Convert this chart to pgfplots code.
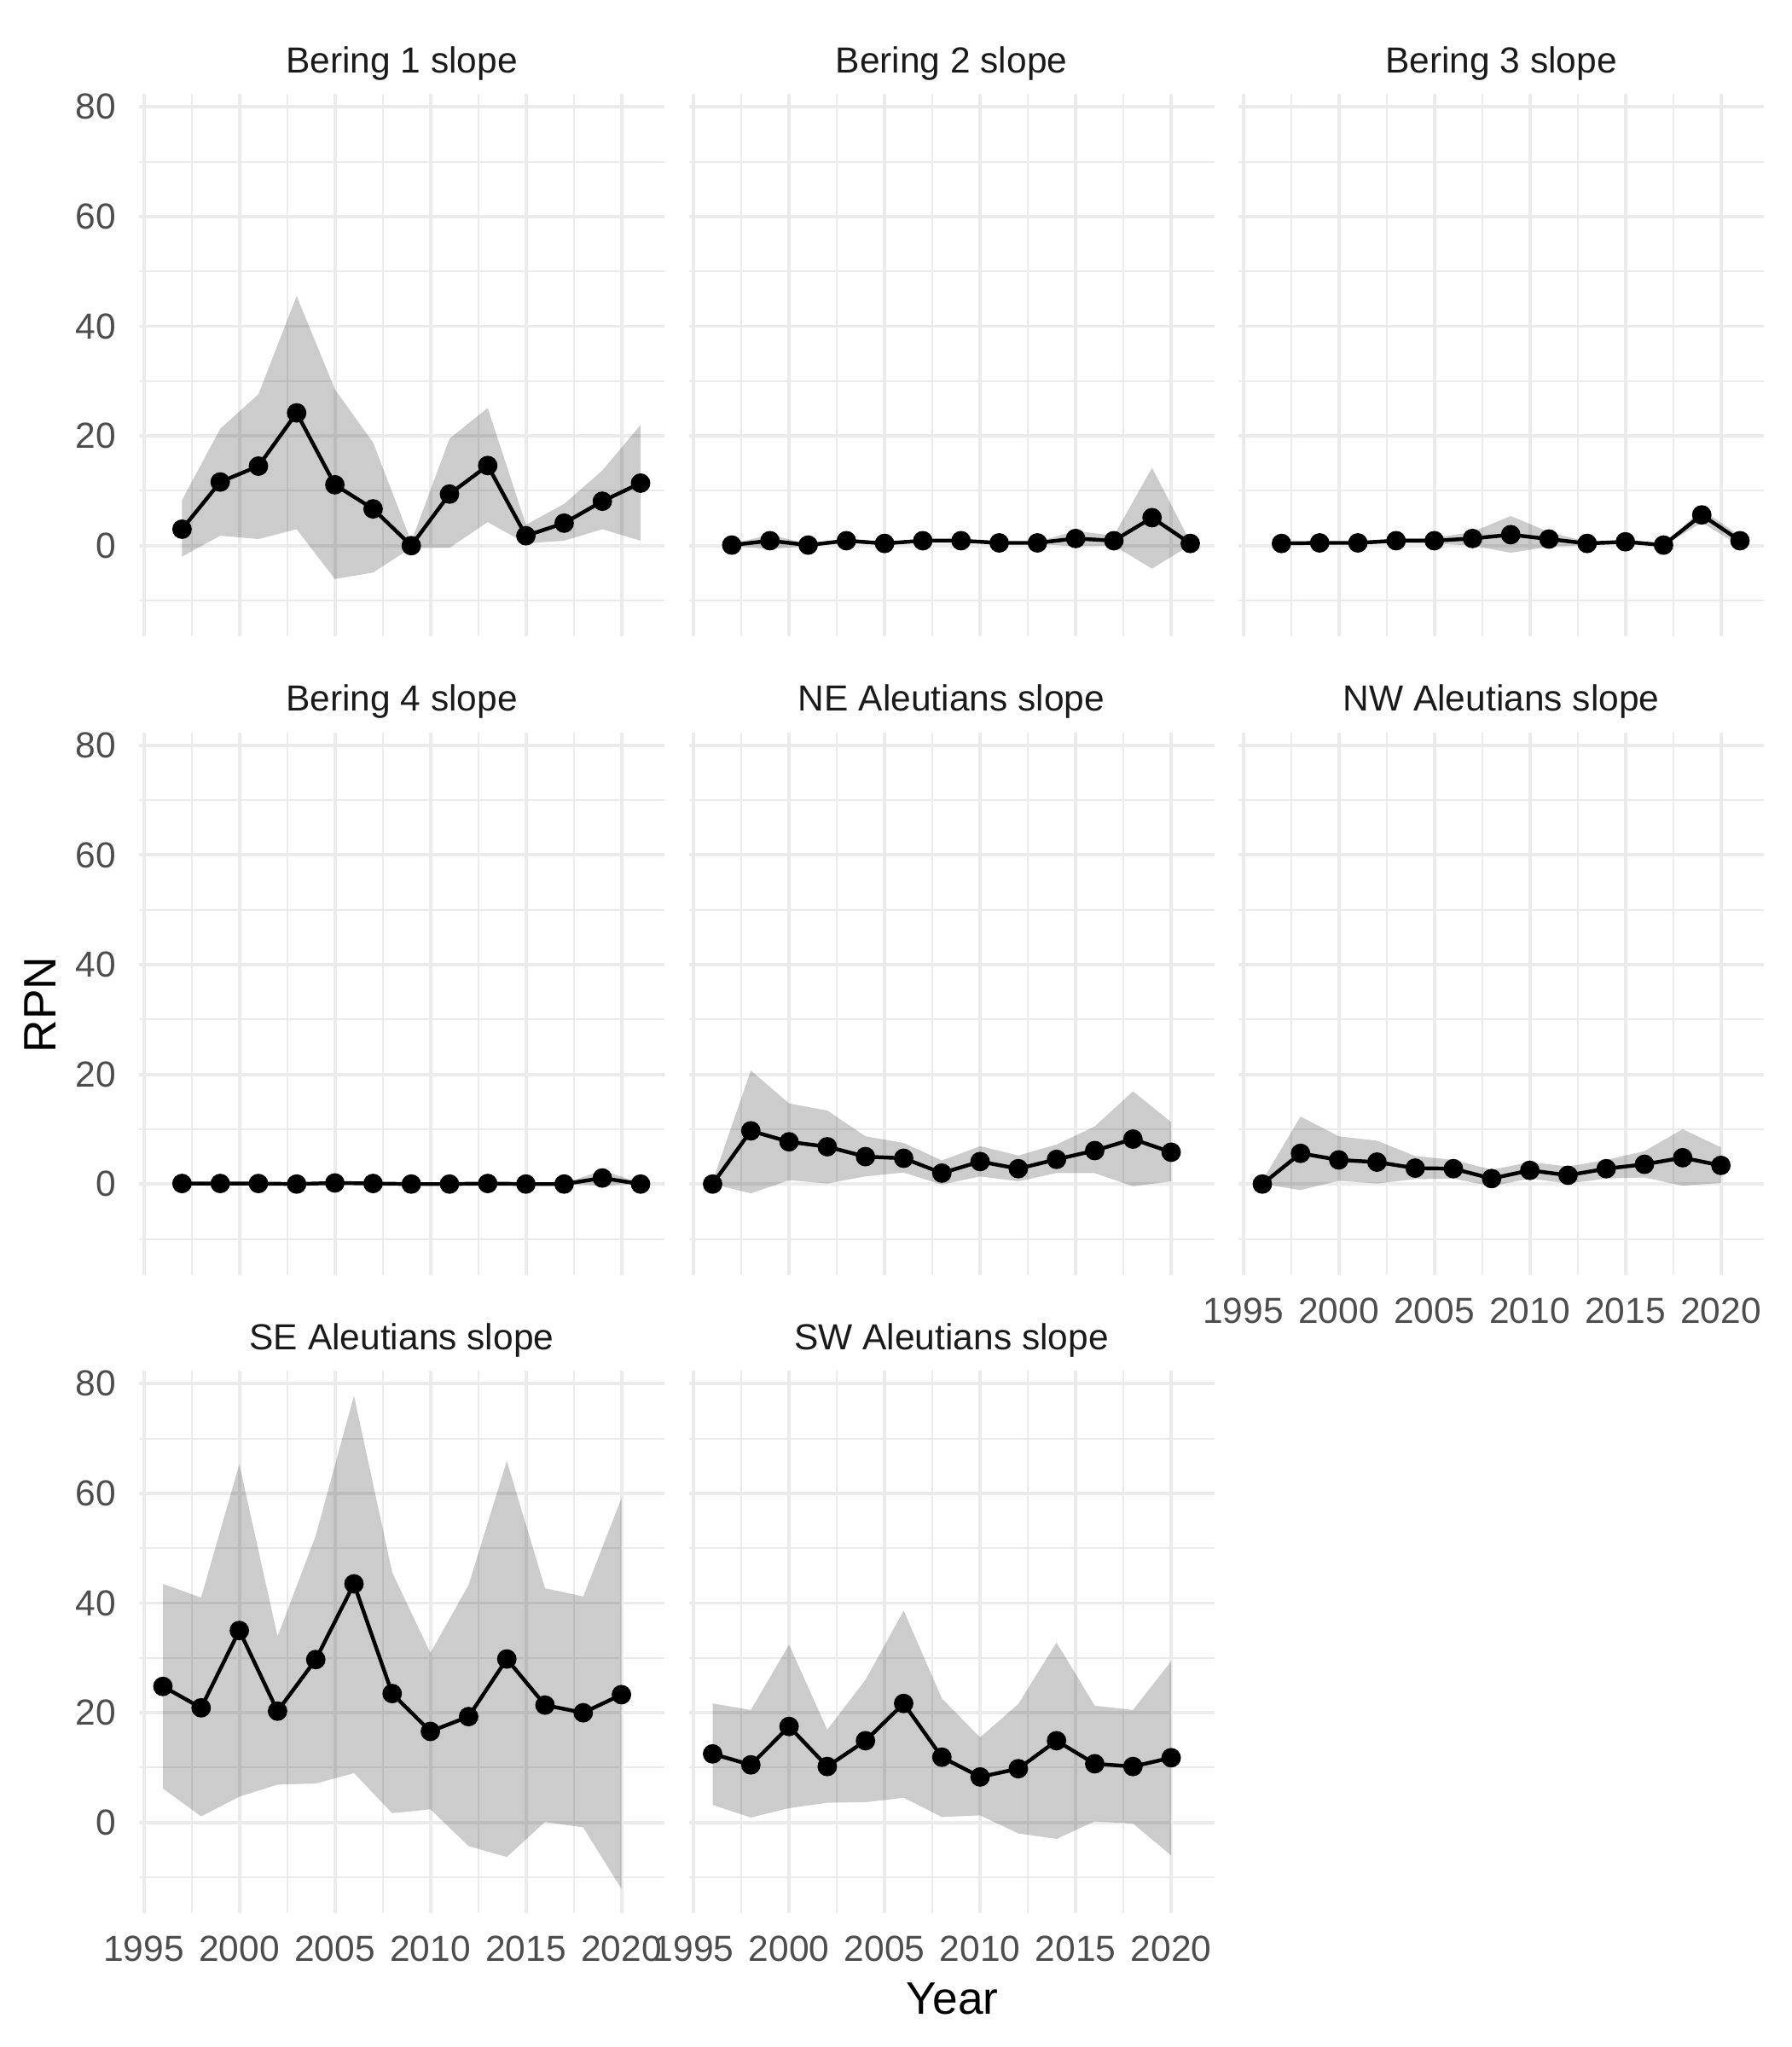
\documentclass[border=0pt]{standalone}
\usepackage{fontspec}
\setmainfont{Liberation Sans}
\usepackage{pgfplots}
\pgfplotsset{compat=1.18}
\usepackage{pgfplotstable}
\definecolor{gridc}{HTML}{EBEBEB}
\definecolor{tickc}{HTML}{4D4D4D}
\definecolor{stripc}{HTML}{1A1A1A}

\pgfplotstableread{
year est
1997 3.0
1999 11.6
2001 14.5
2003 24.2
2005 11.1
2007 6.7
2009 0.0
2011 9.4
2013 14.6
2015 1.8
2017 4.1
2019 8.1
2021 11.4
}\tabBa
\pgfplotstableread{
year est
1997 0.1
1999 0.9
2001 0.1
2003 0.9
2005 0.4
2007 0.9
2009 0.9
2011 0.5
2013 0.5
2015 1.3
2017 0.9
2019 5.1
2021 0.4
}\tabBb
\pgfplotstableread{
year est
1997 0.4
1999 0.5
2001 0.5
2003 0.9
2005 0.9
2007 1.3
2009 2.0
2011 1.2
2013 0.4
2015 0.7
2017 0.1
2019 5.6
2021 0.9
}\tabBc
\pgfplotstableread{
year est
1997 0.1
1999 0.1
2001 0.1
2003 0.0
2005 0.2
2007 0.1
2009 0.0
2011 0.0
2013 0.1
2015 0.0
2017 0.0
2019 1.1
2021 0.0
}\tabBd
\pgfplotstableread{
year est
1996 0.0
1998 9.7
2000 7.7
2002 6.8
2004 5.0
2006 4.7
2008 2.0
2010 4.1
2012 2.8
2014 4.5
2016 6.1
2018 8.2
2020 5.8
}\tabNE
\pgfplotstableread{
year est
1996 0.0
1998 5.6
2000 4.4
2002 4.0
2004 2.9
2006 2.8
2008 1.0
2010 2.5
2012 1.6
2014 2.8
2016 3.6
2018 4.8
2020 3.4
}\tabNW
\pgfplotstableread{
year est
1996 24.8
1998 20.9
2000 35.0
2002 20.3
2004 29.7
2006 43.5
2008 23.5
2010 16.6
2012 19.3
2014 29.8
2016 21.4
2018 20.0
2020 23.3
}\tabSE
\pgfplotstableread{
year est
1996 12.5
1998 10.5
2000 17.5
2002 10.2
2004 14.9
2006 21.7
2008 11.9
2010 8.3
2012 9.8
2014 14.9
2016 10.7
2018 10.2
2020 11.8
}\tabSW

\newcommand{\tickfont}{\fontsize{10.2}{12}\selectfont}
\pgfplotsset{
  panel/.style={
    scale only axis, width=147.84pt, height=152.64pt, anchor=south west,
    xmin=1994.75, xmax=2022.25, ymin=-16.6, ymax=82.3,
    xtick={1995,2000,...,2020}, ytick={0,20,...,80},
    minor xtick={1997.5,2002.5,2007.5,2012.5,2017.5},
    minor ytick={-10,10,30,50,70},
    grid=both,
    major grid style={color=gridc, line width=0.95pt},
    minor grid style={color=gridc, line width=0.5pt},
    axis line style={draw=none},
    tick style={draw=none},
    major tick length=0pt, minor tick length=0pt,
    xticklabels={}, yticklabels={},
    /pgf/number format/1000 sep={},
    /pgf/number format/assume math mode=true,
    tick label style={font=\tickfont, text=tickc, inner sep=0pt},
    xticklabel style={anchor=north, yshift=-6.2pt},
    yticklabel style={anchor=east, xshift=-6.3pt},
    title style={anchor=base, yshift=0pt, inner sep=0pt,
      font=\tickfont, text=stripc},
  },
  ylab/.style={yticklabels={0,20,40,60,80}},
  xlab/.style={xticklabels={1995,2000,2005,2010,2015,2020}},
}

% #1 x, #2 y, #3 table, #4 title, #5 options, #6 ribbon polygon
\newcommand{\panel}[6]{%
\begin{axis}[panel, at={(#1,#2)}, title={#4}, #5]
\addplot[fill=black, fill opacity=0.2, draw=none] coordinates {#6};
\addplot[black, line width=1.07pt, mark=*, mark size=2.2pt,
  mark options={draw=none, fill=black}] table[x=year,y=est]{#3};
\end{axis}}

\begin{document}
\begin{tikzpicture}
\path[use as bounding box] (0,0) rectangle (504pt,576pt);
\panel{39.12pt}{396.84pt}{\tabBa}{Bering 1 slope}{ylab}{
(1997,8.3) (1999,21.3) (2001,27.6) (2003,45.5) (2005,28.5) (2007,18.8) (2009,0.7)
(2011,19.5) (2013,25.1) (2015,3.8) (2017,7.6) (2019,13.7) (2021,22.0)
(2021,0.9) (2019,3.0) (2017,0.9) (2015,0.4) (2013,4.3) (2011,-0.4) (2009,-0.4)
(2007,-4.9) (2005,-6.1) (2003,3.0) (2001,1.2) (1999,1.8) (1997,-2.0)}
\panel{193.8pt}{396.84pt}{\tabBb}{Bering 2 slope}{}{
(1997,0.3) (1999,2.0) (2001,0.3) (2003,1.3) (2005,0.6) (2007,1.2) (2009,1.2)
(2011,0.7) (2013,0.7) (2015,2.7) (2017,1.8) (2019,14.2) (2021,0.7)
(2021,0.1) (2019,-4.2) (2017,0.0) (2015,-0.1) (2013,0.3) (2011,0.3) (2009,0.6)
(2007,0.6) (2005,0.2) (2003,0.5) (2001,-0.1) (1999,-0.6) (1997,-0.1)}
\panel{348.48pt}{396.84pt}{\tabBc}{Bering 3 slope}{}{
(1997,0.6) (1999,0.7) (2001,0.8) (2003,1.3) (2005,1.4) (2007,2.5) (2009,5.4)
(2011,2.5) (2013,0.7) (2015,1.0) (2017,0.2) (2019,6.6) (2021,1.8)
(2021,0.0) (2019,4.2) (2017,0.0) (2015,0.4) (2013,0.1) (2011,-0.2) (2009,-1.3)
(2007,0.0) (2005,0.4) (2003,0.5) (2001,0.2) (1999,0.3) (1997,0.2)}
\panel{39.12pt}{217.2pt}{\tabBd}{Bering 4 slope}{ylab}{
(1997,0.2) (1999,0.2) (2001,0.2) (2003,0.1) (2005,0.3) (2007,0.2) (2009,0.1)
(2011,0.1) (2013,0.2) (2015,0.1) (2017,0.1) (2019,2.5) (2021,0.2)
(2021,0.0) (2019,-0.3) (2017,0.0) (2015,0.0) (2013,0.0) (2011,0.0) (2009,0.0)
(2007,0.0) (2005,0.0) (2003,0.0) (2001,0.0) (1999,0.0) (1997,0.0)}
\panel{193.8pt}{217.2pt}{\tabNE}{NE Aleutians slope}{}{
(1996,0.5) (1998,20.7) (2000,14.7) (2002,13.4) (2004,8.7) (2006,7.5) (2008,4.3)
(2010,6.9) (2012,5.2) (2014,7.2) (2016,10.5) (2018,16.9) (2020,11.3)
(2020,0.5) (2018,-0.4) (2016,2.0) (2014,2.0) (2012,0.5) (2010,1.4) (2008,-0.1)
(2006,2.1) (2004,1.4) (2002,0.1) (2000,0.7) (1998,-1.7) (1996,0.0)}
\panel{348.48pt}{217.2pt}{\tabNW}{NW Aleutians slope}{xlab}{
(1996,0.6) (1998,12.3) (2000,8.7) (2002,7.9) (2004,5.1) (2006,4.4) (2008,2.6)
(2010,4.0) (2012,3.2) (2014,4.4) (2016,6.0) (2018,10.0) (2020,6.7)
(2020,0.2) (2018,-0.3) (2016,1.2) (2014,1.0) (2012,0.1) (2010,1.0) (2008,-0.4)
(2006,1.0) (2004,0.9) (2002,0.1) (2000,0.6) (1998,-1.1) (1996,0.0)}
\panel{39.12pt}{37.56pt}{\tabSE}{SE Aleutians slope}{ylab,xlab}{
(1996,43.5) (1998,41.0) (2000,65.3) (2002,33.9) (2004,52.3) (2006,77.8) (2008,45.6)
(2010,30.9) (2012,43.3) (2014,65.9) (2016,42.7) (2018,41.2) (2020,59.1)
(2020,-12.1) (2018,-0.9) (2016,0.1) (2014,-6.3) (2012,-4.3) (2010,2.4) (2008,1.7)
(2006,9.0) (2004,7.1) (2002,6.9) (2000,4.7) (1998,1.1) (1996,6.2)}
\panel{193.8pt}{37.56pt}{\tabSW}{SW Aleutians slope}{xlab}{
(1996,21.7) (1998,20.5) (2000,32.4) (2002,16.9) (2004,26.0) (2006,38.6) (2008,22.6)
(2010,15.5) (2012,21.6) (2014,32.8) (2016,21.3) (2018,20.5) (2020,29.4)
(2020,-6.0) (2018,-0.2) (2016,0.2) (2014,-3.0) (2012,-2.0) (2010,1.3) (2008,1.0)
(2006,4.5) (2004,3.7) (2002,3.6) (2000,2.6) (1998,0.9) (1996,3.2)}
\node[rotate=90, font=\fontsize{12.8}{15}\selectfont, inner sep=0pt] at (11.4pt,293.3pt) {RPN};
\node[anchor=base, font=\fontsize{12.8}{15}\selectfont, inner sep=0pt] at (268pt,9.2pt) {Year};
\end{tikzpicture}
\end{document}
